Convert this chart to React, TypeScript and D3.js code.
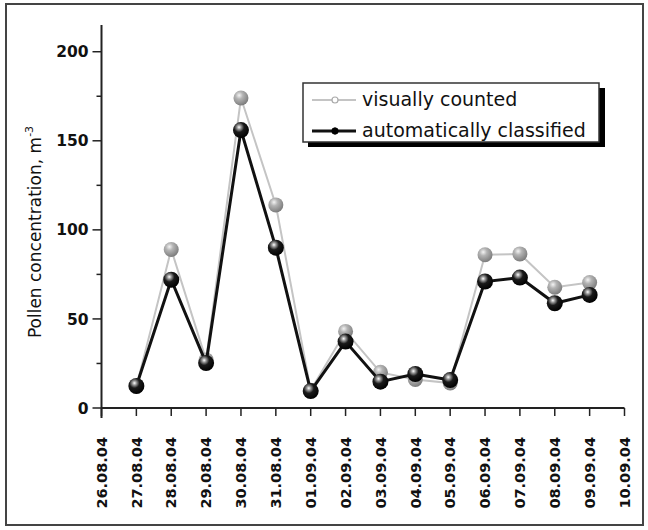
import React from 'react';
import * as d3 from 'd3';

const dates = ['26.08.04', '27.08.04', '28.08.04', '29.08.04', '30.08.04', '31.08.04', '01.09.04', '02.09.04',
  '03.09.04', '04.09.04', '05.09.04', '06.09.04', '07.09.04', '08.09.04', '09.09.04', '10.09.04'];
// values start at 27.08.04 (index 1)
const visual = [12, 89, 27, 174, 114, 10, 43, 20, 16, 14, 86, 86.5, 67.8, 70.4];
const automatic = [12.4, 72, 25.2, 156, 90, 9.5, 37.3, 14.8, 19.1, 15.7, 71, 73.2, 58.8, 63.5];
const yMajor = [0, 50, 100, 150, 200];
const yMinor = [25, 75, 125, 175];

const W = 648, H = 530;
const FONT = '"DejaVu Sans", Arial, sans-serif';

export default function App() {
  const x = d3.scaleLinear().domain([0, 15]).range([101.5, 624.5]);
  const y = d3.scaleLinear().domain([0, 215]).range([408, 25]);

  const line = d3.line<number>().x((_, i) => x(i + 1)).y(d => y(d));

  const sphere = (id: string) => (
    <radialGradient id={id} cx="0.38" cy="0.32" r="0.7">
      {id === 'gray' ? (
        <>
          <stop offset="0" stopColor="#f4f4f4" />
          <stop offset="0.35" stopColor="#b4b4b4" />
          <stop offset="1" stopColor="#7a7a7a" />
        </>
      ) : (
        <>
          <stop offset="0" stopColor="#ffffff" />
          <stop offset="0.18" stopColor="#9a9a9a" />
          <stop offset="0.45" stopColor="#1a1a1a" />
          <stop offset="1" stopColor="#000000" />
        </>
      )}
    </radialGradient>
  );

  return (
    <div>
      <style>{`body{margin:0}`}</style>
      <svg width={W} height={H} style={{ display: 'block', background: '#fff' }} fontFamily={FONT}>
        <defs>
          {sphere('gray')}
          {sphere('black')}
        </defs>

        {/* outer frame */}
        <rect x={6} y={4} width={637} height={521} fill="none" stroke="#444" strokeWidth={2} />

        {/* visually counted */}
        <path d={line(visual) || ''} fill="none" stroke="#c4c4c4" strokeWidth={2} />
        {visual.map((v, i) => (
          <circle key={'g' + i} cx={x(i + 1)} cy={y(v)} r={7.5} fill="url(#gray)" />
        ))}

        {/* automatically classified */}
        <path d={line(automatic) || ''} fill="none" stroke="#111" strokeWidth={3} />
        {automatic.map((v, i) => (
          <circle key={'b' + i} cx={x(i + 1)} cy={y(v)} r={8} fill="url(#black)" />
        ))}

        {/* axes */}
        <line x1={x(0)} x2={x(0)} y1={y(215)} y2={418} stroke="#222" strokeWidth={2} />
        <line x1={x(0)} x2={x(15)} y1={y(0)} y2={y(0)} stroke="#222" strokeWidth={2} />
        {yMajor.map(t => (
          <g key={t}>
            <line x1={x(0) - 9} x2={x(0)} y1={y(t)} y2={y(t)} stroke="#222" strokeWidth={1.5} />
            <text x={x(0) - 13} y={y(t)} dy="0.36em" textAnchor="end" fontSize={15.5} fontWeight="bold" fill="#111">{t}</text>
          </g>
        ))}
        {yMinor.map(t => (
          <line key={t} x1={x(0) - 5} x2={x(0)} y1={y(t)} y2={y(t)} stroke="#222" strokeWidth={1.5} />
        ))}
        {dates.map((d, i) => (
          <g key={d}>
            <line x1={x(i)} x2={x(i)} y1={y(0)} y2={y(0) + 8} stroke="#222" strokeWidth={1.5} />
            <text transform={`translate(${x(i)},437) rotate(-90)`} dy="0.36em" textAnchor="end"
              fontSize={14.5} fontWeight="bold" fill="#111">{d}</text>
          </g>
        ))}

        {/* y title */}
        <text transform="translate(35,232) rotate(-90)" dy="0.36em" textAnchor="middle" fontSize={17} fill="#111">
          Pollen concentration, m<tspan dy="-0.75em" fontSize={11}>-3</tspan>
        </text>

        {/* legend */}
        <rect x={308} y={88} width={297} height={59} fill="#000" />
        <rect x={303} y={83} width={296} height={59} fill="#fff" stroke="#333" strokeWidth={1.5} />
        <line x1={312} x2={356} y1={100} y2={100} stroke="#c4c4c4" strokeWidth={2} />
        <circle cx={335} cy={100} r={3} fill="#fff" stroke="#aaa" strokeWidth={1.2} />
        <text x={362} y={106} fontSize={19} fill="#111">visually counted</text>
        <line x1={312} x2={356} y1={131} y2={131} stroke="#111" strokeWidth={3} />
        <circle cx={335} cy={131} r={3.2} fill="#000" stroke="#000" />
        <text x={362} y={137} fontSize={19} fill="#111">automatically classified</text>
      </svg>
    </div>
  );
}
